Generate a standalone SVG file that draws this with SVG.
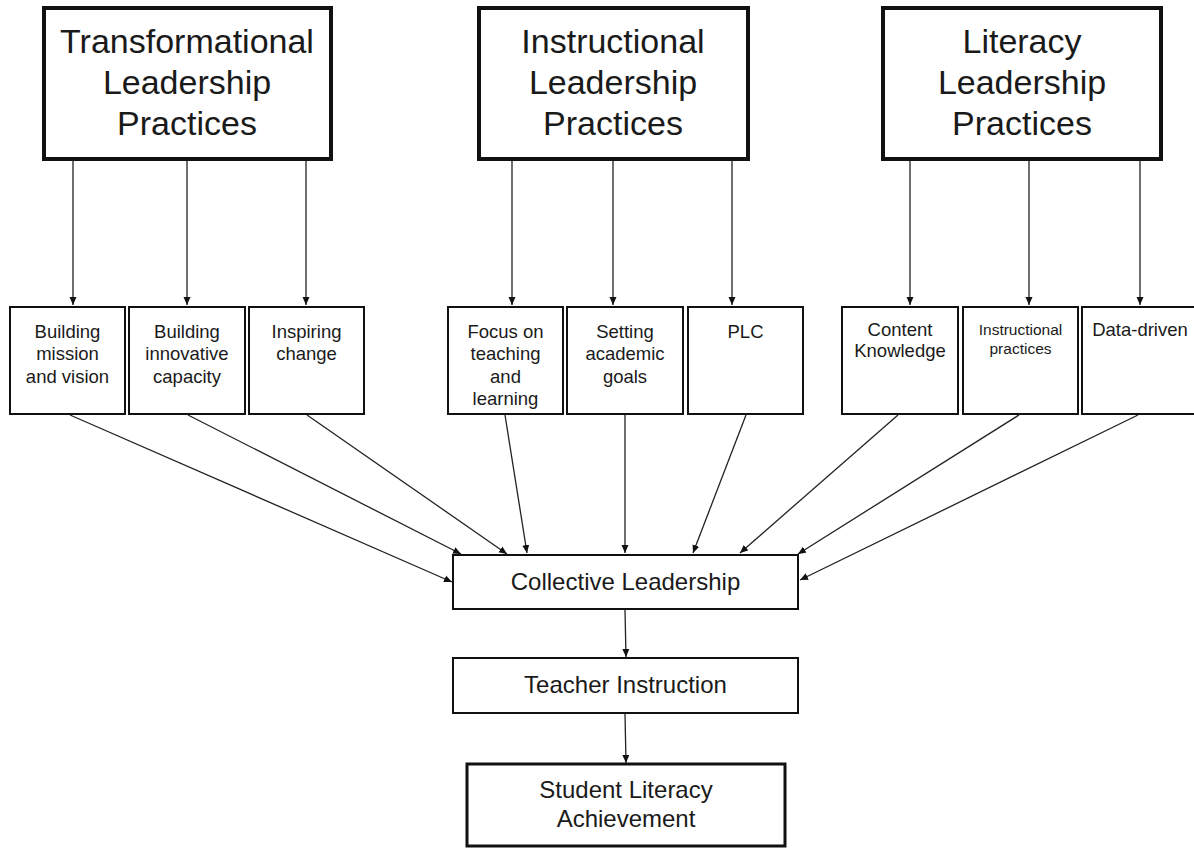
<svg xmlns="http://www.w3.org/2000/svg" width="1194" height="848" viewBox="0 0 1194 848">
<style>
text{font-family:"Liberation Sans",Arial,sans-serif;fill:#1a1a1a;text-anchor:middle}
.big{font-size:34px}
.sm{font-size:18.5px}
.xs{font-size:15.5px}
.mid{font-size:24px}
.thick{fill:#fff;stroke:#111;stroke-width:4}
.box{fill:#fff;stroke:#111;stroke-width:2}
.med{fill:#fff;stroke:#111;stroke-width:3}
.conn line{stroke:#222;stroke-width:1.3;marker-end:url(#ah)}
</style>
<defs>
<marker id="ah" markerUnits="userSpaceOnUse" markerWidth="10" markerHeight="8" refX="8" refY="4" orient="auto">
<path d="M0,0.5 L8,4 L0,7.5 Z" fill="#111"/>
</marker>
</defs>
<rect width="1194" height="848" fill="#fff"/>
<g id="n-transformational">
<rect class="thick" x="44" y="8" width="287" height="151"/>
<text class="big" x="187" y="53">Transformational</text>
<text class="big" x="187" y="94">Leadership</text>
<text class="big" x="187" y="135">Practices</text>
</g>
<g id="n-instructional">
<rect class="thick" x="479" y="8" width="269" height="151"/>
<text class="big" x="613" y="53">Instructional</text>
<text class="big" x="613" y="94">Leadership</text>
<text class="big" x="613" y="135">Practices</text>
</g>
<g id="n-literacy">
<rect class="thick" x="883" y="8" width="278" height="151"/>
<text class="big" x="1022" y="53">Literacy</text>
<text class="big" x="1022" y="94">Leadership</text>
<text class="big" x="1022" y="135">Practices</text>
</g>
<g id="n-mission">
<rect class="box" x="10" y="307" width="115" height="107"/>
<text class="sm" x="67.5" y="338">Building</text>
<text class="sm" x="67.5" y="360">mission</text>
<text class="sm" x="67.5" y="383">and vision</text>
</g>
<g id="n-innovative">
<rect class="box" x="129" y="307" width="116" height="107"/>
<text class="sm" x="187" y="338">Building</text>
<text class="sm" x="187" y="360">innovative</text>
<text class="sm" x="187" y="383">capacity</text>
</g>
<g id="n-inspiring">
<rect class="box" x="249" y="307" width="115" height="107"/>
<text class="sm" x="306.5" y="338">Inspiring</text>
<text class="sm" x="306.5" y="360">change</text>
</g>
<g id="n-focus">
<rect class="box" x="448" y="307" width="115" height="107"/>
<text class="sm" x="505.5" y="338">Focus on</text>
<text class="sm" x="505.5" y="360">teaching</text>
<text class="sm" x="505.5" y="383">and</text>
<text class="sm" x="505.5" y="405">learning</text>
</g>
<g id="n-goals">
<rect class="box" x="567" y="307" width="116" height="107"/>
<text class="sm" x="625" y="338">Setting</text>
<text class="sm" x="625" y="360">academic</text>
<text class="sm" x="625" y="383">goals</text>
</g>
<g id="n-plc">
<rect class="box" x="688" y="307" width="115" height="107"/>
<text class="sm" x="745.5" y="338">PLC</text>
</g>
<g id="n-content">
<rect class="box" x="842" y="307" width="116" height="107"/>
<text class="sm" x="900" y="336">Content</text>
<text class="sm" x="900" y="357">Knowledge</text>
</g>
<g id="n-practices">
<rect class="box" x="963" y="307" width="115" height="107"/>
<text class="xs" x="1020.5" y="335">Instructional</text>
<text class="xs" x="1020.5" y="354">practices</text>
</g>
<g id="n-data">
<rect class="box" x="1082" y="307" width="115" height="107"/>
<text class="sm" x="1140" y="336">Data-driven</text>
</g>
<g id="n-collective">
<rect class="box" x="453" y="555" width="345" height="54"/>
<text class="mid" x="625.5" y="590">Collective Leadership</text>
</g>
<g id="n-teacher">
<rect class="box" x="453" y="658" width="345" height="55"/>
<text class="mid" x="625.5" y="693">Teacher Instruction</text>
</g>
<g id="n-student">
<rect class="med" x="467" y="764" width="318" height="82"/>
<text class="mid" x="626" y="798">Student Literacy</text>
<text class="mid" x="626" y="827">Achievement</text>
</g>
<g id="connectors" class="conn">
<line x1="73" y1="161" x2="73" y2="305"/>
<line x1="187" y1="161" x2="187" y2="305"/>
<line x1="306" y1="161" x2="306" y2="305"/>
<line x1="512" y1="161" x2="512" y2="305"/>
<line x1="613" y1="161" x2="613" y2="305"/>
<line x1="732" y1="161" x2="732" y2="305"/>
<line x1="910" y1="161" x2="910" y2="305"/>
<line x1="1029" y1="161" x2="1029" y2="305"/>
<line x1="1140" y1="161" x2="1140" y2="305"/>
<line x1="70" y1="415" x2="452" y2="582"/>
<line x1="188" y1="415" x2="461" y2="554"/>
<line x1="307" y1="415" x2="507" y2="554"/>
<line x1="505" y1="415" x2="527" y2="553"/>
<line x1="625" y1="415" x2="625" y2="553"/>
<line x1="746" y1="415" x2="693" y2="553"/>
<line x1="898" y1="415" x2="740" y2="553"/>
<line x1="1019" y1="415" x2="798" y2="554"/>
<line x1="1138" y1="415" x2="800" y2="580"/>
<line x1="625" y1="610" x2="626" y2="657"/>
<line x1="625" y1="714" x2="626" y2="763"/>
</g>
</svg>
